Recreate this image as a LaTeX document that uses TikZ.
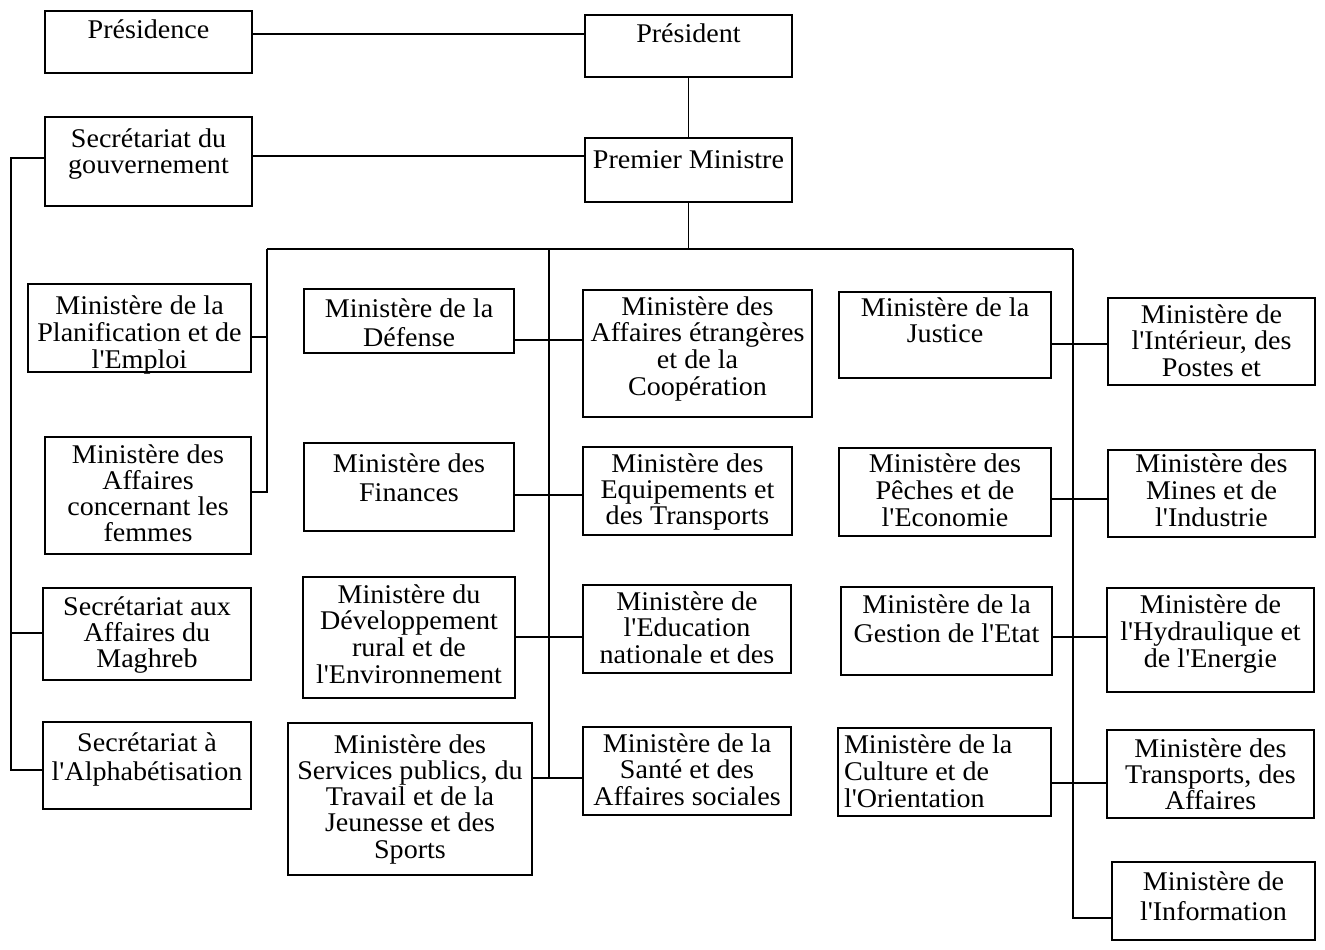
\documentclass[tikz,border=0pt]{standalone}
\usepackage{fontspec}
\setmainfont{Liberation Serif}[Ligatures=TeXOff, FakeStretch=1.04]
\tikzset{
  obox/.style={draw, line width=1.1pt, inner sep=0pt, outer sep=0pt, anchor=north west},
  conn/.style={line width=1.1pt}
}
% #1 name, #2 x1, #3 y1, #4 x2, #5 y2, #6 first baseline offset, #7 line spacing, #8 alignment, #9 text
\newcommand\obox[9]{%
  \pgfmathsetmacro\bw{#4-#2}\pgfmathsetmacro\bh{#5-#3}%
  \node[obox] (#1) at (#2,#3) {\parbox[t][\bh pt][t]{\bw pt}{\fontsize{27pt}{#7pt}\selectfont\lineskiplimit=-40pt\lineskip=0pt#8\rule{0pt}{#6pt}#9\par}};}
\begin{document}
\begin{tikzpicture}[x=1pt,y=-1pt]
\useasboundingbox (0,0) rectangle (1325,950);
% top
\obox{presidence}{45}{11}{252}{73}{28}{27}{\centering}{Présidence}
\obox{president}{585}{15}{792}{77}{28}{27}{\centering}{Président}
\obox{secgouv}{45}{117}{252}{206}{30}{26}{\centering}{Secrétariat du\\gouvernement}
\obox{pm}{585}{138}{792}{202}{30}{27}{\centering}{Premier Ministre}
% column 1
\obox{planif}{28}{284}{251}{372}{30}{27}{\centering}{Ministère de la\\Planification et de\\l'Emploi}
\obox{femmes}{45}{437}{251}{554}{26}{26.3}{\centering}{Ministère des\\Affaires\\concernant les\\femmes}
\obox{maghreb}{43}{588}{251}{680}{27}{26}{\centering}{Secrétariat aux\\Affaires du\\Maghreb}
\obox{alpha}{43}{722}{251}{809}{29}{29}{\centering}{Secrétariat à\\l'Alphabétisation}
% column 2
\obox{defense}{304}{289}{514}{353}{28}{29}{\centering}{Ministère de la\\Défense}
\obox{finances}{304}{443}{514}{531}{29}{29}{\centering}{Ministère des\\Finances}
\obox{devel}{303}{577}{515}{698}{26}{26.7}{\centering}{Ministère du\\Développement\\rural et de\\l'Environnement}
\obox{services}{288}{723}{532}{875}{30}{26.3}{\centering}{Ministère des\\Services publics, du\\Travail et de la\\Jeunesse et des\\Sports}
% column 3
\obox{ae}{583}{290}{812}{417}{25}{26.7}{\centering}{Ministère des\\Affaires étrangères\\et de la\\Coopération}
\obox{equip}{583}{447}{792}{535}{25}{26}{\centering}{Ministère des\\Equipements et\\des Transports}
\obox{educ}{583}{585}{791}{673}{25}{26.5}{\centering}{Ministère de\\l'Education\\nationale et des}
\obox{sante}{583}{727}{791}{815}{25}{26.5}{\centering}{Ministère de la\\Santé et des\\Affaires sociales}
% column 4
\obox{justice}{839}{292}{1051}{378}{24}{26}{\centering}{Ministère de la\\Justice}
\obox{peches}{839}{448}{1051}{536}{24}{27}{\centering}{Ministère des\\Pêches et de\\l'Economie}
\obox{gestion}{841}{587}{1052}{675}{26}{29}{\centering}{Ministère de la\\Gestion de l'Etat}
\obox{culture}{838}{728}{1051}{816}{25}{27}{\raggedright\leftskip=6pt}{Ministère de la\\Culture et de\\l'Orientation}
% column 5
\obox{interieur}{1108}{298}{1315}{385}{25}{26.5}{\centering}{Ministère de\\l'Intérieur, des\\Postes et}
\obox{mines}{1108}{450}{1315}{537}{22}{27}{\centering}{Ministère des\\Mines et de\\l'Industrie}
\obox{hydro}{1107}{588}{1314}{692}{25}{27}{\centering}{Ministère de\\l'Hydraulique et\\de l'Energie}
\obox{transports}{1107}{730}{1314}{818}{27}{26}{\centering}{Ministère des\\Transports, des\\Affaires}
\obox{info}{1112}{862}{1315}{940}{28}{30}{\centering}{Ministère de\\l'Information}
% bus coordinates
\coordinate (busL) at (267,249);
\coordinate (busM) at (549,249);
\coordinate (busR) at (1073,249);
\coordinate (lbus) at (11,158);
% connectors
\draw[conn] (presidence.east |- 0,34) -- (president.west |- 0,34);
\draw[conn] (president.south) -- (pm.north);
\draw[conn] (secgouv.east |- 0,156) -- (pm.west |- 0,156);
\draw[conn] (pm.south) -- (pm.south |- busL);
\draw[conn] (busL) -- (busR);
% left bus
\draw[conn] (secgouv.west |- lbus) -- (lbus) -- (lbus |- 0,770) -- (alpha.west |- 0,770);
\draw[conn] (lbus |- 0,633) -- (maghreb.west |- 0,633);
% column 1 bus
\draw[conn] (busL) -- (busL |- 0,492) -- (femmes.east |- 0,492);
\draw[conn] (planif.east |- 0,337) -- (busL |- 0,337);
% middle bus
\draw[conn] (busM) -- (busM |- 0,778);
\draw[conn] (defense.east |- 0,340) -- (ae.west |- 0,340);
\draw[conn] (finances.east |- 0,495) -- (equip.west |- 0,495);
\draw[conn] (devel.east |- 0,637) -- (educ.west |- 0,637);
\draw[conn] (services.east |- 0,778) -- (sante.west |- 0,778);
% right bus
\draw[conn] (busR) -- (busR |- 0,918) -- (info.west |- 0,918);
\draw[conn] (justice.east |- 0,344) -- (interieur.west |- 0,344);
\draw[conn] (peches.east |- 0,499) -- (mines.west |- 0,499);
\draw[conn] (gestion.east |- 0,637) -- (hydro.west |- 0,637);
\draw[conn] (culture.east |- 0,783) -- (transports.west |- 0,783);
\end{tikzpicture}
\end{document}
